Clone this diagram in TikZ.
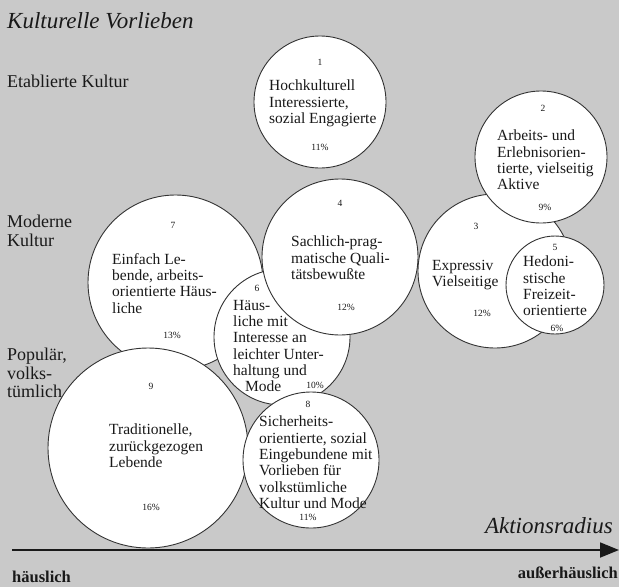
\documentclass[tikz,border=0pt]{standalone}
\usepackage{fontspec}
\setmainfont{Liberation Serif}
\usetikzlibrary{arrows.meta}
\definecolor{bg}{gray}{0.79}
\definecolor{ring}{gray}{0.2}
\definecolor{ink}{gray}{0.1}
\tikzset{
  bubble/.style={circle, draw=ring, fill=white, line width=0.9pt, inner sep=0pt, minimum size=#1},
  tag/.style={font=\fontsize{9.5}{10}\selectfont, inner sep=0pt, text=ink},
  body/.style={font=\fontsize{15.5}{16.3}\selectfont, align=left, anchor=north west, inner sep=0pt, text=ink},
  side/.style={font=\fontsize{18}{18.5}\selectfont, align=left, anchor=north west, inner sep=0pt, text=ink},
  axislabel/.style={font=\fontsize{16.5}{17}\selectfont\bfseries, inner sep=0pt, text=ink},
  italiclabel/.style={font=\fontsize{23}{24}\selectfont\itshape, inner sep=0pt, text=ink},
}
\begin{document}
\begin{tikzpicture}[x=1pt,y=-1pt]
\fill[bg] (0,0) rectangle (619,587);
\useasboundingbox (0,0) rectangle (619,587);

% titles and side labels
\node[italiclabel, anchor=base west] (title) at (7,28) {Kulturelle Vorlieben};
\node[side] (etab) at (7,75) {Etablierte Kultur};
\node[side] (mod) at (7,215) {Moderne\\Kultur};
\node[side] (pop) at (7,348) {Populär,\\volks-\\tümlich};

% circles (drawing order = stacking order)
\node[bubble=175pt] (c7) at (175.5,282.5) {};
\node[bubble=136pt] (c6) at (282,337) {};
\node[bubble=156pt] (c4) at (340,257) {};
\node[bubble=200pt] (c9) at (148,448) {};
\node[bubble=136pt] (c8) at (311,460) {};
\node[bubble=132pt] (c1) at (320,102) {};
\node[bubble=154pt] (c3) at (495,271) {};
\node[bubble=132pt] (c2) at (541,157) {};
\node[bubble=98pt]  (c5) at (555,285) {};

% circle 1
\node[tag] (n1) at (320,62) {1};
\node[body] (t1) at (269,80) {Hochkulturell\\Interessierte,\\sozial Engagierte};
\node[tag] (p1) at (320,147) {11\%};
% circle 2
\node[tag] (n2) at (543,108) {2};
\node[body] (t2) at (497,130) {Arbeits- und\\Erlebnisorien-\\tierte, vielseitig\\Aktive};
\node[tag] (p2) at (545,207) {9\%};
% circle 3
\node[tag] (n3) at (476,226) {3};
\node[body] (t3) at (432,260) {Expressiv\\Vielseitige};
\node[tag] (p3) at (482,313) {12\%};
% circle 4
\node[tag] (n4) at (340,203) {4};
\node[body] (t4) at (291,236) {Sachlich-prag-\\matische Quali-\\tätsbewußte};
\node[tag] (p4) at (346,307) {12\%};
% circle 5
\node[tag] (n5) at (555,247) {5};
\node[body] (t5) at (523,256) {Hedoni-\\stische\\Freizeit-\\orientierte};
\node[tag] (p5) at (557,328) {6\%};
% circle 6
\node[tag] (n6) at (257,288) {6};
\node[body] (t6) at (233,300) {Häus-\\liche mit\\Interesse an\\leichter Unter-\\haltung und\\\hspace*{12pt}Mode};
\node[tag] (p6) at (315,385) {10\%};
% circle 7
\node[tag] (n7) at (173,225) {7};
\node[body] (t7) at (112,253) {Einfach Le-\\bende, arbeits-\\orientierte Häus-\\liche};
\node[tag] (p7) at (172,335) {13\%};
% circle 8
\node[tag] (n8) at (308,404) {8};
\node[body] (t8) at (259,416) {Sicherheits-\\orientierte, sozial\\Eingebundene mit\\Vorlieben für\\volkstümliche\\Kultur und Mode};
\node[tag] (p8) at (308,517) {11\%};
% circle 9
\node[tag] (n9) at (151,386) {9};
\node[body] (t9) at (109,424) {Traditionelle,\\zurückgezogen\\Lebende};
\node[tag] (p9) at (151,507) {16\%};

% axis
\coordinate (ax0) at (12,550);
\coordinate (ax1) at (619,550);
\draw[ink, line width=1.8pt, -{Triangle[length=19pt,width=15pt]}] (ax0) -- (ax1);
\node[italiclabel, anchor=base east] (akt) at (613,533) {Aktionsradius};
\node[axislabel, anchor=west] (haus) at (12,577) {häuslich};
\node[axislabel, anchor=east] (auss) at (618,573) {außerhäuslich};
\end{tikzpicture}
\end{document}
